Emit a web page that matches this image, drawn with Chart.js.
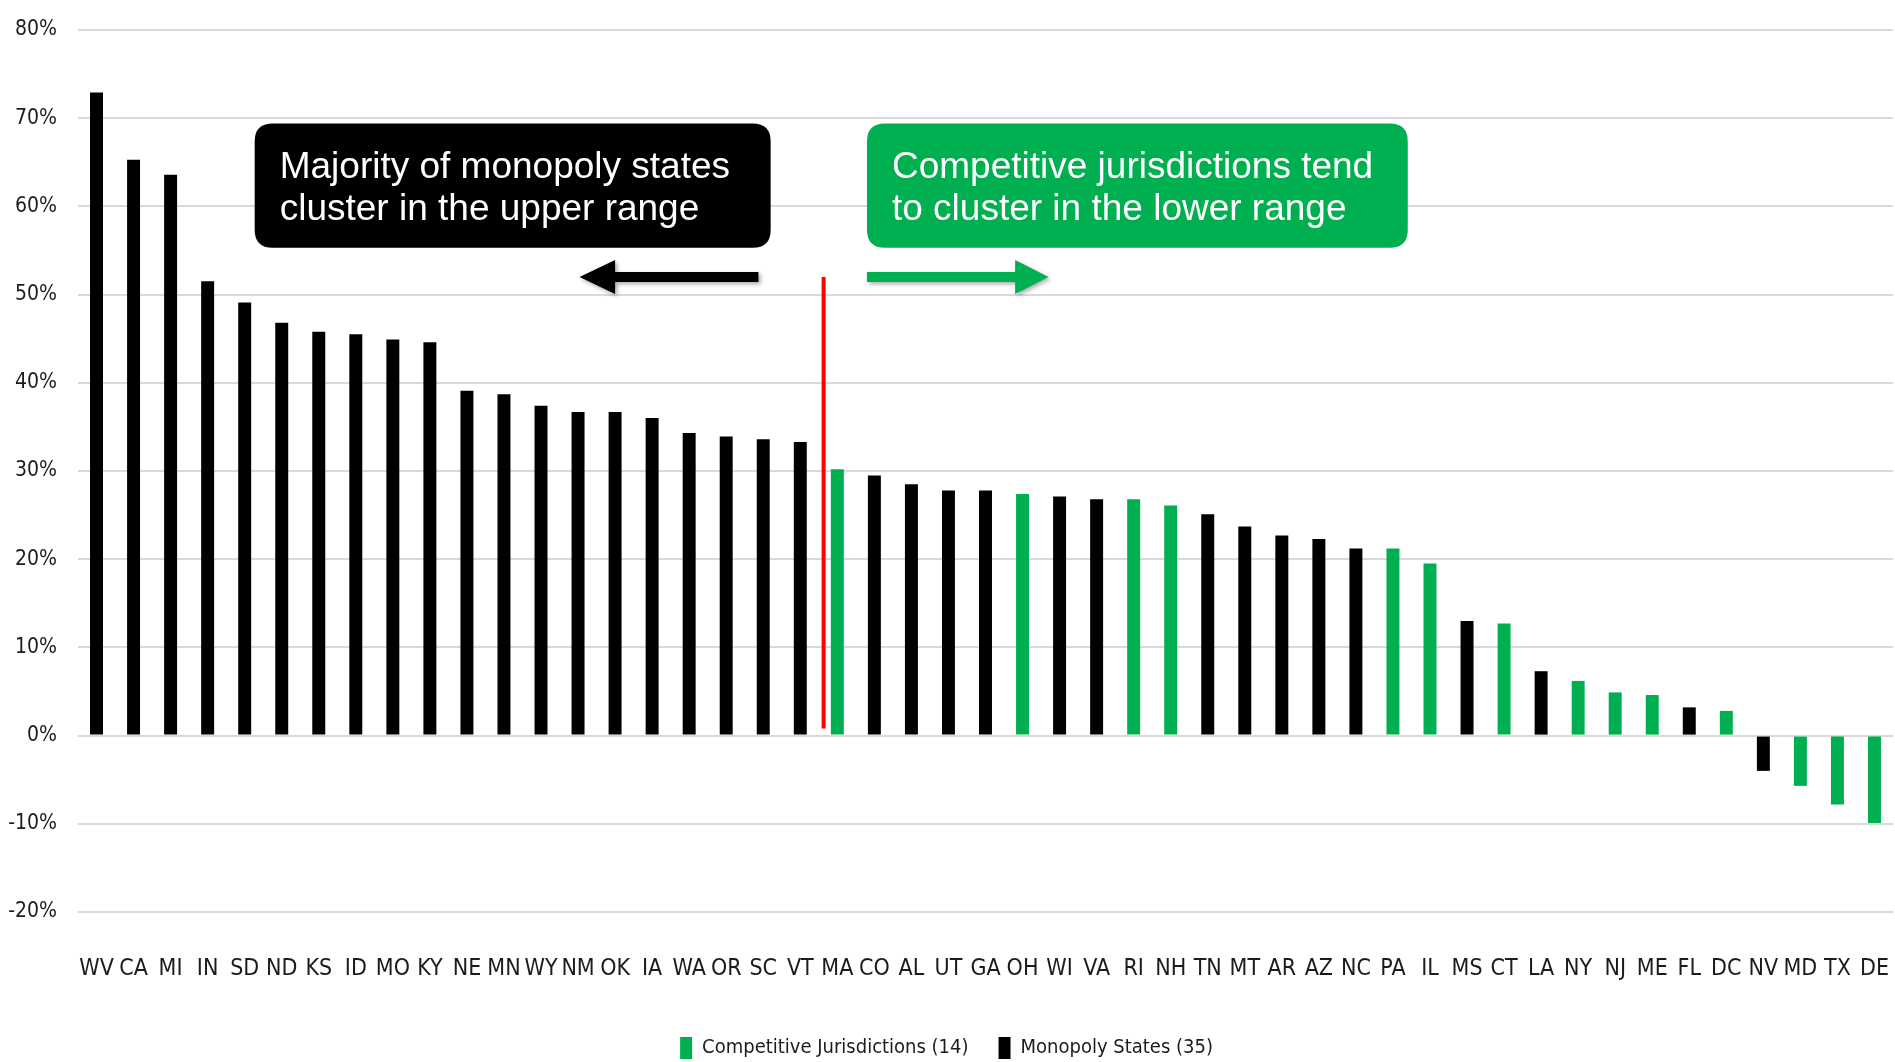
<!DOCTYPE html>
<html>
<head>
<meta charset="utf-8">
<script src="https://cdn.jsdelivr.net/npm/chart.js@4/dist/chart.umd.min.js"></script>
<style>
  html, body { margin: 0; padding: 0; background: #ffffff; }
  #wrap { width: 1895px; height: 1062px; position: relative; }
</style>
</head>
<body>
<div id="wrap"><canvas id="chart" width="1895" height="1062"></canvas></div>
<script>
// Jurisdictions, sorted from highest to lowest value
const states = ['WV','CA','MI','IN','SD','ND','KS','ID','MO','KY',
                'NE','MN','WY','NM','OK','IA','WA','OR','SC','VT',
                'MA','CO','AL','UT','GA','OH','WI','VA','RI','NH',
                'TN','MT','AR','AZ','NC','PA','IL','MS','CT','LA',
                'NY','NJ','ME','FL','DC','NV','MD','TX','DE'];

// Percentage value per jurisdiction (same order as states)
const values = [72.9, 65.3, 63.6, 51.5, 49.1, 46.8, 45.8, 45.5, 44.9, 44.6,
                39.1, 38.7, 37.4, 36.7, 36.7, 36.0, 34.3, 33.9, 33.6, 33.3,
                30.2, 29.5, 28.5, 27.8, 27.8, 27.4, 27.1, 26.8, 26.8, 26.1,
                25.1, 23.7, 22.7, 22.3, 21.2, 21.2, 19.5, 13.0, 12.7, 7.3,
                6.2, 4.9, 4.6, 3.2, 2.8, -4.0, -5.7, -7.8, -9.9];

// Jurisdictions with competitive markets; all others are monopoly states
const competitiveStates = ['MA','OH','RI','NH','PA','IL','CT','NY','NJ','ME','DC','MD','TX','DE'];

// Value-axis tick range
const yMin = -20, yMax = 80, yStep = 10;

const seriesNames = ['Competitive Jurisdictions (14)', 'Monopoly States (35)'];

const GREEN = '#00b050';
const BLACK = '#000000';
const TEXT = '#1c1c1c';
const NARROW = "'Liberation Sans Narrow', 'DejaVu Sans Condensed', 'Arial Narrow', sans-serif";

const competitiveData = states.map((s, i) => competitiveStates.includes(s) ? values[i] : null);
const monopolyData = states.map((s, i) => competitiveStates.includes(s) ? null : values[i]);

// Callout boxes, arrows and divider, placed in axis units (category index, percent)
const callouts = {
  divider: { x: 19.63, yTop: 52, yBottom: 0.8 },
  boxes: [
    { x0: 4.27, x1: 18.2, yTop: 69.4, yBottom: 55.3, fill: BLACK,
      lines: ['Majority of monopoly states', 'cluster in the upper range'] },
    { x0: 20.8, x1: 35.4, yTop: 69.4, yBottom: 55.3, fill: GREEN,
      lines: ['Competitive jurisdictions tend', 'to cluster in the lower range'] }
  ],
  arrows: [
    { tail: 17.87, base: 14.0, tip: 13.04, y: 52.0, fill: BLACK },
    { tail: 20.8, base: 24.8, tip: 25.7, y: 52.0, fill: GREEN }
  ]
};

function roundRect(ctx, x, y, w, h, r) {
  ctx.beginPath();
  ctx.moveTo(x + r, y);
  ctx.lineTo(x + w - r, y);
  ctx.quadraticCurveTo(x + w, y, x + w, y + r);
  ctx.lineTo(x + w, y + h - r);
  ctx.quadraticCurveTo(x + w, y + h, x + w - r, y + h);
  ctx.lineTo(x + r, y + h);
  ctx.quadraticCurveTo(x, y + h, x, y + h - r);
  ctx.lineTo(x, y + r);
  ctx.quadraticCurveTo(x, y, x + r, y);
  ctx.closePath();
}

const calloutPlugin = {
  id: 'callouts',
  afterDatasetsDraw(chart) {
    const ctx = chart.ctx;
    const xs = chart.scales.x, ys = chart.scales.y;
    ctx.save();

    // red divider between monopoly-heavy and competitive groups
    const d = callouts.divider;
    const dx = xs.getPixelForValue(d.x);
    ctx.strokeStyle = '#ff0000';
    ctx.lineWidth = 4;
    ctx.beginPath();
    ctx.moveTo(dx, ys.getPixelForValue(d.yTop));
    ctx.lineTo(dx, ys.getPixelForValue(d.yBottom));
    ctx.stroke();

    // rounded text boxes
    callouts.boxes.forEach(b => {
      const x0 = xs.getPixelForValue(b.x0), x1 = xs.getPixelForValue(b.x1);
      const y0 = ys.getPixelForValue(b.yTop), y1 = ys.getPixelForValue(b.yBottom);
      ctx.fillStyle = b.fill;
      roundRect(ctx, x0, y0, x1 - x0, y1 - y0, 18);
      ctx.fill();
      ctx.fillStyle = '#ffffff';
      ctx.font = "37px 'Liberation Sans', Arial, sans-serif";
      ctx.textBaseline = 'alphabetic';
      ctx.textAlign = 'left';
      b.lines.forEach((t, i) => ctx.fillText(t, x0 + 25, y0 + 55 + i * 42));
    });

    // arrows with a soft drop shadow
    callouts.arrows.forEach(a => {
      const y = ys.getPixelForValue(a.y);
      const tail = xs.getPixelForValue(a.tail);
      const base = xs.getPixelForValue(a.base);
      const tip = xs.getPixelForValue(a.tip);
      ctx.save();
      ctx.shadowColor = 'rgba(0,0,0,0.35)';
      ctx.shadowBlur = 4;
      ctx.shadowOffsetX = 2;
      ctx.shadowOffsetY = 2;
      ctx.fillStyle = a.fill;
      ctx.beginPath();
      ctx.moveTo(tail, y - 5);
      ctx.lineTo(base, y - 5);
      ctx.lineTo(base, y - 17);
      ctx.lineTo(tip, y);
      ctx.lineTo(base, y + 17);
      ctx.lineTo(base, y + 5);
      ctx.lineTo(tail, y + 5);
      ctx.closePath();
      ctx.fill();
      ctx.restore();
    });

    ctx.restore();
  }
};

// Nudge the legend row a little to the right of the canvas centre
const legendShift = {
  id: 'legendShift',
  afterUpdate(chart) {
    const lg = chart.legend;
    if (lg && lg.legendHitBoxes) lg.legendHitBoxes.forEach(h => { h.left += 16; });
  }
};

new Chart(document.getElementById('chart'), {
  type: 'bar',
  data: {
    labels: states,
    datasets: [
      { label: seriesNames[0], data: competitiveData, backgroundColor: GREEN,
        categoryPercentage: 1, barPercentage: 0.35, grouped: false },
      { label: seriesNames[1], data: monopolyData, backgroundColor: BLACK,
        categoryPercentage: 1, barPercentage: 0.35, grouped: false }
    ]
  },
  options: {
    responsive: false,
    animation: false,
    devicePixelRatio: 1,
    layout: { padding: { top: 30, right: 2, left: 0, bottom: -7 } },
    plugins: {
      tooltip: { enabled: false },
      legend: {
        position: 'bottom',
        labels: {
          boxWidth: 12,
          boxHeight: 22,
          padding: 30,
          color: TEXT,
          font: { family: NARROW, size: 20 }
        }
      }
    },
    scales: {
      x: {
        grid: { display: false },
        border: { display: false },
        ticks: {
          color: TEXT,
          font: { family: NARROW, size: 23 },
          maxRotation: 0,
          autoSkip: false,
          padding: 35
        },
        afterFit: s => { s.height = 95; s.paddingLeft = 0; s.paddingRight = 0; }
      },
      y: {
        min: yMin,
        max: yMax,
        grid: { color: '#d9d9d9', lineWidth: 2, drawTicks: false },
        border: { display: false },
        ticks: {
          stepSize: yStep,
          color: TEXT,
          padding: 21,
          font: { family: NARROW, size: 21 },
          callback: v => v + '%'
        },
        afterFit: s => { s.width = 78; s.paddingTop = 0; s.paddingBottom = 0; }
      }
    }
  },
  plugins: [calloutPlugin, legendShift]
});
</script>
</body>
</html>
